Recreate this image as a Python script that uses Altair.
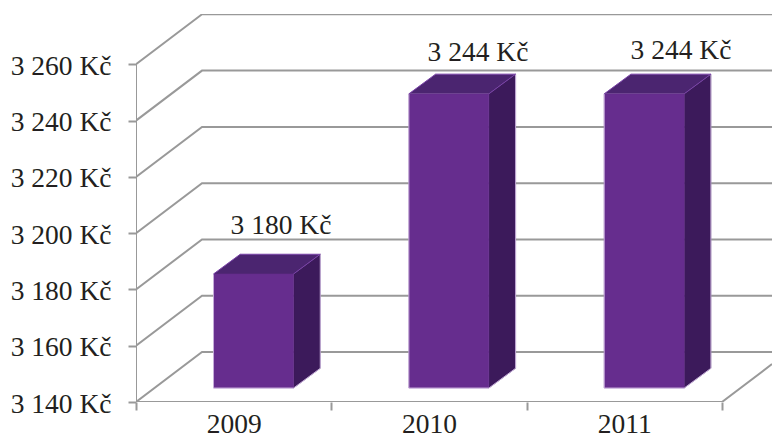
import altair as alt
import pandas as pd

years = ["2009", "2010", "2011"]
values = [3180, 3244, 3244]
y_ticks = [3140, 3160, 3180, 3200, 3220, 3240, 3260]

# geometry, in data units (x: category slots, y: Kč)
X_PX = 195.33
Y_PX = 2.814
WIDTH = 636
HEIGHT = 388
XMAX = WIDTH / X_PX
YMAX = 3140 + HEIGHT / Y_PX
WALL_DX = 66 / X_PX
WALL_DY = 50 / Y_PX
BAR_LEFT = 0.397
BAR_W = 80 / X_PX
DEPTH_DX = 26.7 / X_PX
DEPTH_DY = 19.7 / Y_PX
BASE_LIFT = 14 / Y_PX
TOP_LIFT = 15.5 / Y_PX
LABEL_X = [145 / X_PX, 342 / X_PX, 545 / X_PX]
LABEL_Y = [3140 + (401.7 - 226) / Y_PX, 3140 + (401.7 - 53) / Y_PX, 3140 + (401.7 - 51) / Y_PX]

GREY = "#999999"
FRONT = "#662d8e"
TOP = "#4b2570"
SIDE = "#3c1a5b"
EDGE = "#7a43a8"
PALE = "#cdb6e0"
FONT = "Liberation Serif"
TEXT = "#231f20"
FS = 27.5

xs = alt.Scale(domain=[0, XMAX], nice=False, zero=False)
ys = alt.Scale(domain=[3140, YMAX], nice=False, zero=False)

grid_rows = []
for v in y_ticks:
    grid_rows += [
        {"v": v, "x": 0, "y": v},
        {"v": v, "x": WALL_DX, "y": v + WALL_DY},
        {"v": v, "x": XMAX, "y": v + WALL_DY},
    ]
axis_rows = [
    {"k": "y", "x": 0, "y": 3140},
    {"k": "y", "x": 0, "y": y_ticks[-1]},
    {"k": "x", "x": 0, "y": 3140},
    {"k": "x", "x": 3, "y": 3140},
    {"k": "x", "x": XMAX, "y": 3140 + (XMAX - 3) / WALL_DX * WALL_DY},
]

front, side, top, edge, pale, labels = [], [], [], [], [], []
for i, (yr, v) in enumerate(zip(years, values)):
    x0 = i + BAR_LEFT
    x1 = x0 + BAR_W
    b = 3140 + BASE_LIFT
    t = v + TOP_LIFT
    front.append({"x": x0, "x2": x1, "y": b, "y2": t})
    side += [
        {"b": yr, "x": x1, "y": b, "y2": t},
        {"b": yr, "x": x1 + DEPTH_DX, "y": b + DEPTH_DY, "y2": t + DEPTH_DY},
    ]
    top += [
        {"b": yr, "x": x0, "y": t, "y2": t},
        {"b": yr, "x": x0 + DEPTH_DX, "y": t, "y2": t + DEPTH_DY},
        {"b": yr, "x": x1, "y": t, "y2": t + DEPTH_DY},
        {"b": yr, "x": x1 + DEPTH_DX, "y": t + DEPTH_DY, "y2": t + DEPTH_DY},
    ]
    # lighter purple along the top face's far edges and the near-right bevel
    for n, (ex, ey) in enumerate([
        (x0, t), (x0 + DEPTH_DX, t + DEPTH_DY), (x1 + DEPTH_DX, t + DEPTH_DY), (x1, t),
    ]):
        edge.append({"b": yr, "x": ex, "y": ey, "n": n})
    # pale rim round the bottom and the outer sides
    for n, (ex, ey) in enumerate([
        (x0, t), (x0, b), (x1, b), (x1 + DEPTH_DX, b + DEPTH_DY), (x1 + DEPTH_DX, t + DEPTH_DY),
    ]):
        pale.append({"b": yr, "x": ex, "y": ey, "n": n})
    labels.append({
        "x": LABEL_X[i], "y": LABEL_Y[i],
        "t": f"{v:,}".replace(",", " ") + " Kč",
    })

x_label_expr = (
    "datum.value % 1 == 0 ? '' : ["
    + ",".join(f"'{y}'" for y in years)
    + "][floor(datum.value)]"
)

x_axis = alt.Axis(
    values=[0, 0.5, 1, 1.5, 2, 2.5, 3],
    domain=False,
    grid=False,
    tickSize=8,
    tickWidth=2,
    tickColor=GREY,
    tickOpacity={"condition": {"test": "datum.value % 1 != 0", "value": 0}, "value": 1},
    labelExpr=x_label_expr,
    labelFont=FONT,
    labelFontSize=FS,
    labelColor=TEXT,
    labelPadding=0,
    labelOverlap=False,
    labelFlush=False,
)
y_axis = alt.Axis(
    values=y_ticks,
    domain=False,
    grid=False,
    tickSize=8,
    tickWidth=2,
    tickColor=GREY,
    labelExpr="replace(format(datum.value, ','), ',', ' ') + ' Kč'",
    labelFont=FONT,
    labelFontSize=FS,
    labelColor=TEXT,
    labelPadding=17,
    labelOffset=2,
    labelOverlap=False,
    labelFlush=False,
)
X = alt.X("x:Q", scale=xs, title=None, axis=x_axis)
Y = alt.Y("y:Q", scale=ys, title=None, axis=y_axis, stack=None)

grid = alt.Chart(pd.DataFrame(grid_rows)).mark_line(
    color=GREY, strokeWidth=2, clip=True
).encode(x=X, y=Y, detail="v:N", order="x:Q")

axes = alt.Chart(pd.DataFrame(axis_rows)).mark_line(
    color=GREY, strokeWidth=2, clip=True
).encode(x=X, y=Y, detail="k:N", order="x:Q")

side_l = alt.Chart(pd.DataFrame(side)).mark_area(
    color=SIDE, orient="vertical", stroke=SIDE, strokeWidth=0.5
).encode(x=X, y=Y, y2="y2:Q", detail="b:N")

top_l = alt.Chart(pd.DataFrame(top)).mark_area(
    color=TOP, orient="vertical"
).encode(x=X, y=Y, y2="y2:Q", detail="b:N")

front_l = alt.Chart(pd.DataFrame(front)).mark_rect(
    color=FRONT, stroke=FRONT, strokeWidth=0.5
).encode(x=X, x2="x2:Q", y=Y, y2="y2:Q")

pale_l = alt.Chart(pd.DataFrame(pale)).mark_line(
    color=PALE, strokeWidth=0.9
).encode(x=X, y=Y, detail="b:N", order="n:O")

edge_l = alt.Chart(pd.DataFrame(edge)).mark_line(
    color=EDGE, strokeWidth=1
).encode(x=X, y=Y, detail="b:N", order="n:O")

text_l = alt.Chart(pd.DataFrame(labels)).mark_text(
    font=FONT, fontSize=FS, color=TEXT, align="center", baseline="middle"
).encode(x=X, y=Y, text="t:N")

chart = alt.layer(grid, axes, side_l, top_l, front_l, pale_l, edge_l, text_l).properties(
    width=WIDTH,
    height=HEIGHT,
    autosize=alt.AutoSizeParams(type="none"),
    padding={"left": 128, "top": 6, "right": 0, "bottom": 35},
    background="white",
).configure_view(stroke=None)

chart.save("out.html", embed_options={"renderer": "svg", "actions": False})
